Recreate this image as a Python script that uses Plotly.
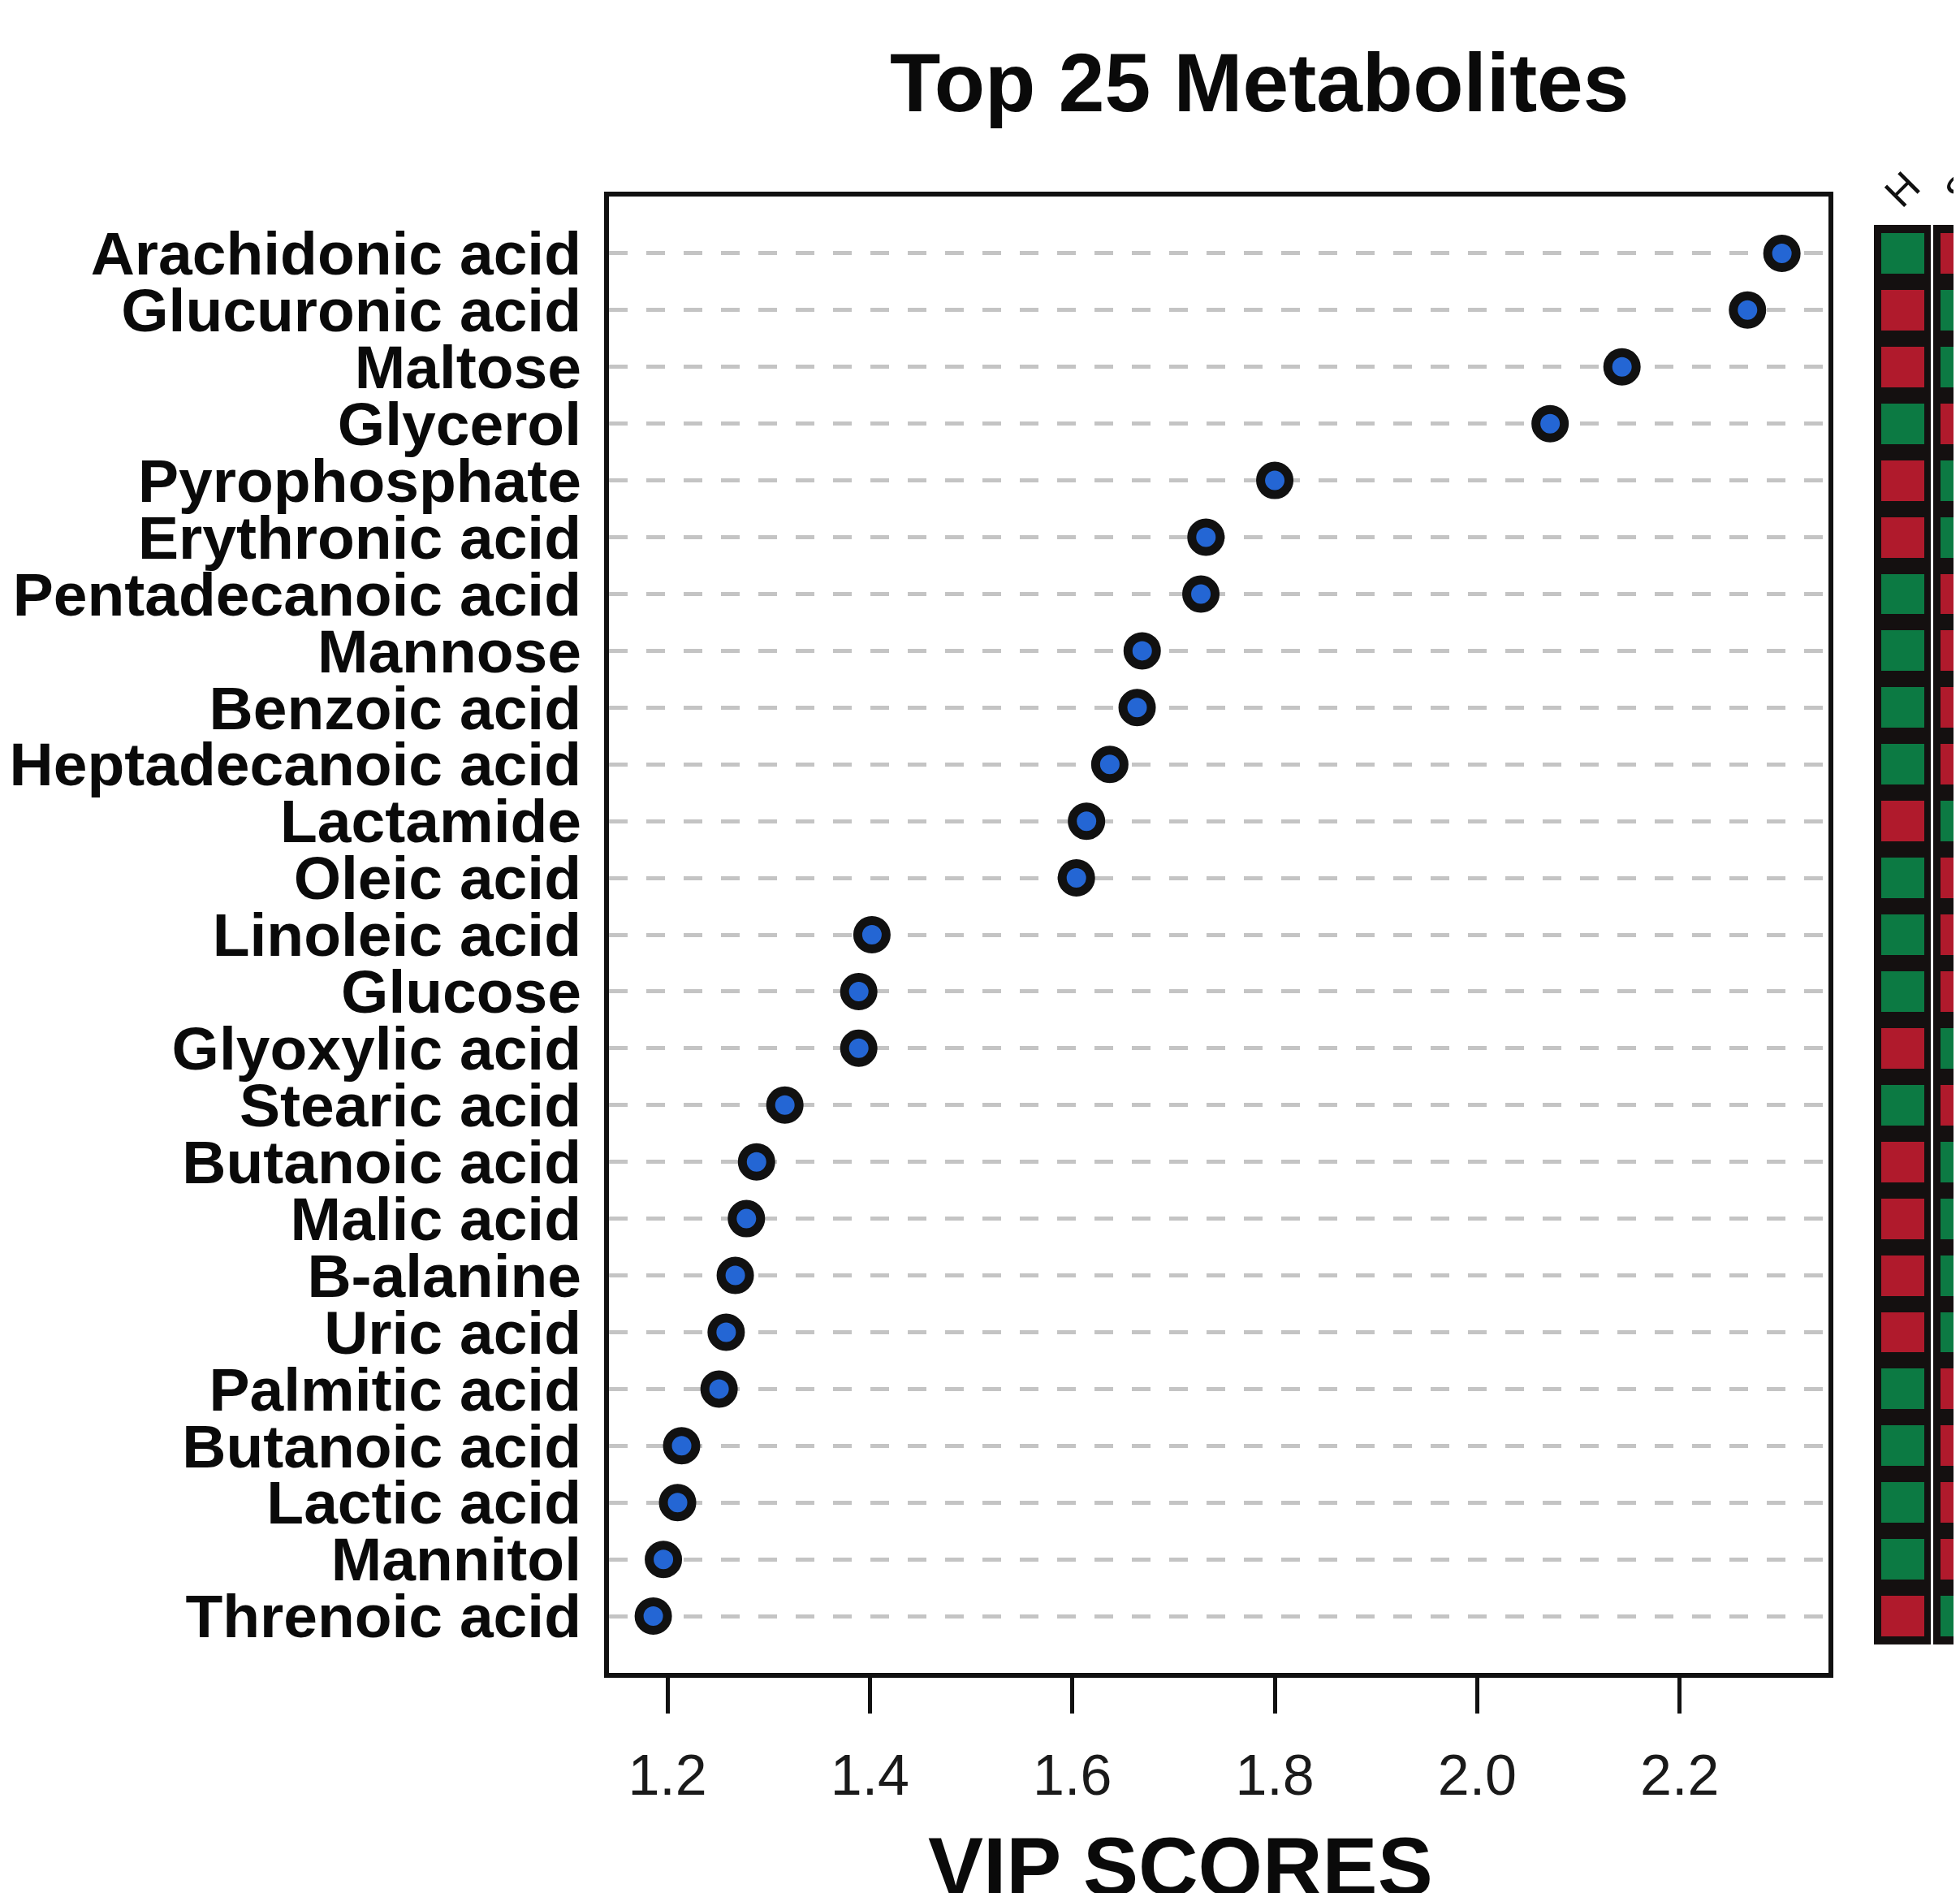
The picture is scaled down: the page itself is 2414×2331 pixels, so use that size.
import plotly.graph_objects as go

# ---------------- data ----------------
metabolites = [
    "Arachidonic acid", "Glucuronic acid", "Maltose", "Glycerol", "Pyrophosphate",
    "Erythronic acid", "Pentadecanoic acid", "Mannose", "Benzoic acid",
    "Heptadecanoic acid", "Lactamide", "Oleic acid", "Linoleic acid", "Glucose",
    "Glyoxylic acid", "Stearic acid", "Butanoic acid", "Malic acid", "B-alanine",
    "Uric acid", "Palmitic acid", "Butanoic acid", "Lactic acid", "Mannitol",
    "Threnoic acid",
]
vip_scores = [
    2.301, 2.267, 2.143, 2.072, 1.800,
    1.732, 1.727, 1.669, 1.664,
    1.637, 1.614, 1.604, 1.402, 1.389,
    1.389, 1.316, 1.288, 1.278, 1.267,
    1.258, 1.251, 1.214, 1.210, 1.196,
    1.186,
]
groups = ["H", "S"]
# relative level per group: 1 = high (red), 0 = low (green)
level_H = [0, 1, 1, 0, 1, 1, 0, 0, 0, 0, 1, 0, 0, 0, 1, 0, 1, 1, 1, 1, 0, 0, 0, 0, 1]
level_S = [1, 0, 0, 1, 0, 0, 1, 1, 1, 1, 0, 1, 1, 1, 0, 1, 0, 0, 0, 0, 1, 1, 1, 1, 0]
x_ticks = [1.2, 1.4, 1.6, 1.8, 2.0, 2.2]
x_tick_labels = ["1.2", "1.4", "1.6", "1.8", "2.0", "2.2"]

# ---------------- layout constants (page pixels) ----------------
OFF = 8                       # default body margin of the html page
W, H = 2414, 2331
BOX_L, BOX_R, BOX_T, BOX_B = 750, 2252, 242, 2060
HEAT_LEFT = 2307
CELL_W = 72.5

ML = BOX_L - OFF
MT = BOX_T - OFF
MB = H - (BOX_B - OFF)
MR = 0
pw = W - ML - MR
ph = H - MT - MB


def px_x(page_x):
    return (page_x - OFF - ML) / pw


def px_y(page_y):
    return (H - MB - (page_y - OFF)) / ph


rows = list(range(len(metabolites)))
n = len(rows)

GREEN = "#0c7a43"
RED = "#b01a2c"
BLUE = "#2466d4"
FONT = "Liberation Sans, Arial, sans-serif"

fig = go.Figure()

fig.add_trace(go.Scatter(
    x=vip_scores, y=rows, mode="markers",
    marker=dict(size=35, color=BLUE, line=dict(color="#111111", width=11)),
    xaxis="x", yaxis="y", showlegend=False, hoverinfo="x+y",
))

# black frame behind the heatmap cells
fig.add_trace(go.Heatmap(
    z=[[0, 0] for _ in rows], x=[0, 1], y=rows,
    colorscale=[[0, "#141010"], [1, "#141010"]], showscale=False,
    xgap=3, ygap=0, xaxis="x2", yaxis="y2", hoverinfo="skip",
))
fig.add_trace(go.Heatmap(
    z=[[h, s] for h, s in zip(level_H, level_S)], x=[0, 1], y=rows,
    colorscale=[[0, GREEN], [0.5, GREEN], [0.5, RED], [1, RED]],
    zmin=0, zmax=1, showscale=False,
    xgap=20, ygap=20, xaxis="x2", yaxis="y2",
))

main_right = px_x(BOX_R)
heat_left = px_x(HEAT_LEFT)
heat_width_px = (1 - heat_left) * pw

fig.update_layout(
    width=W, height=H,
    margin=dict(l=ML, r=MR, t=MT, b=MB, pad=0, autoexpand=False),
    paper_bgcolor="white", plot_bgcolor="white",
    showlegend=False,
    xaxis=dict(
        domain=[0, main_right], range=[1.1422, 2.347],
        tickvals=x_ticks, ticktext=x_tick_labels,
        ticks="outside", ticklen=44, tickwidth=5, tickcolor="#111111",
        showline=True, linewidth=6, linecolor="#111111", mirror=True,
        showgrid=False, zeroline=False, automargin=False,
        tickfont=dict(family=FONT, size=70, color="#1a1a1a"),
        ticklabelstandoff=16, anchor="y",
    ),
    yaxis=dict(
        domain=[0, 1], range=[n, -1],
        tickvals=rows, ticktext=metabolites,
        ticks="", showline=True, linewidth=6, linecolor="#111111", mirror=True,
        showgrid=True, gridcolor="#c4c4c4", gridwidth=5, griddash="23px,23px",
        zeroline=False, automargin=False,
        tickfont=dict(family=FONT, size=75, color="#0a0a0a", weight="bold"),
        ticklabelstandoff=13, anchor="x",
    ),
    xaxis2=dict(
        domain=[heat_left, 1], range=[-0.5, -0.5 + heat_width_px / CELL_W],
        visible=False, anchor="y2",
    ),
    yaxis2=dict(
        domain=[0, 1], range=[n, -1], visible=False, anchor="x2",
    ),
    annotations=[
        dict(text="Top 25 Metabolites", xref="paper", yref="paper",
             x=px_x(1551), y=px_y(102), xanchor="center", yanchor="middle",
             showarrow=False,
             font=dict(family=FONT, size=102, color="#0a0a0a", weight="bold")),
        dict(text="VIP SCORES", xref="paper", yref="paper",
             x=px_x(1454), y=px_y(2299), xanchor="center", yanchor="middle",
             showarrow=False,
             font=dict(family=FONT, size=102, color="#0a0a0a", weight="bold")),
    ] + [
        dict(text=g, xref="x2", yref="paper", x=i, y=px_y(233),
             xanchor="center", yanchor="middle", textangle=-45, showarrow=False,
             font=dict(family=FONT, size=50, color="#111111"))
        for i, g in enumerate(groups)
    ],
)

fig.write_html("out.html")
